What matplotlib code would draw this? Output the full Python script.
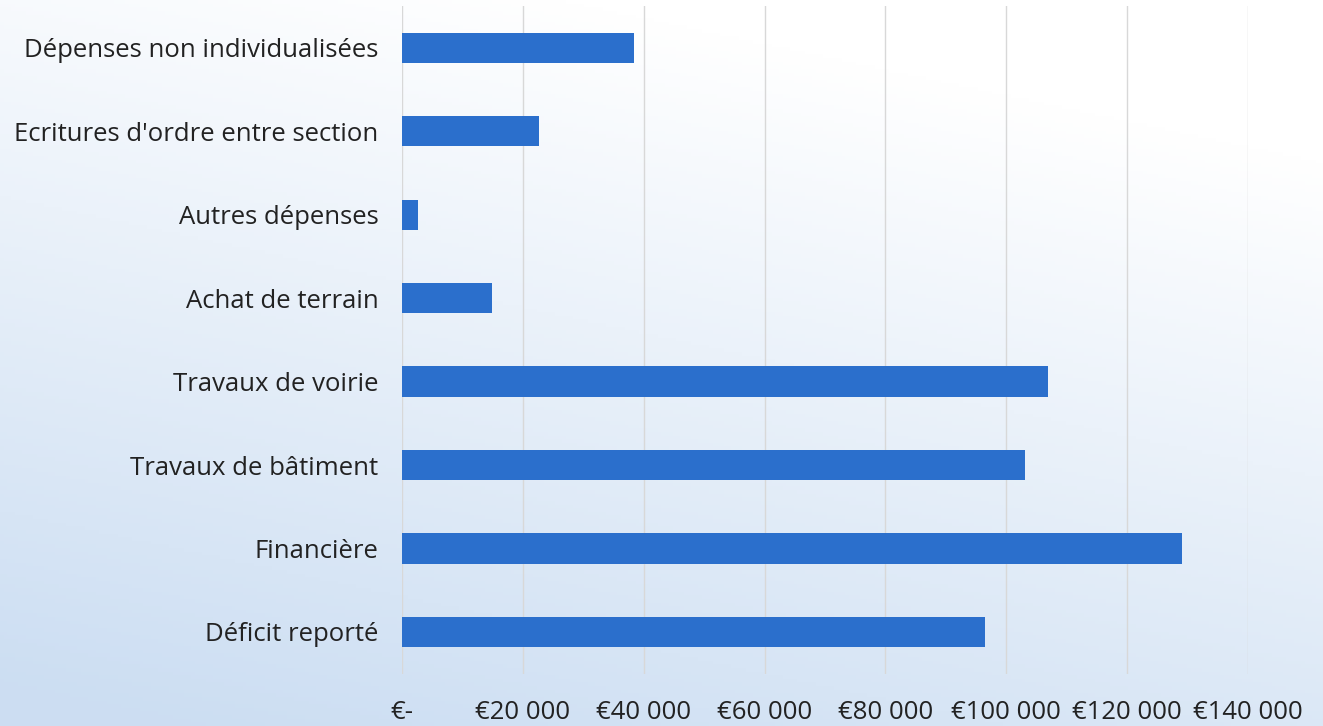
import matplotlib
matplotlib.use("Agg")
import matplotlib.pyplot as plt
import numpy as np
from matplotlib.ticker import FuncFormatter

categories = ["Dépenses non individualisées", "Ecritures d'ordre entre section",
              "Autres dépenses", "Achat de terrain", "Travaux de voirie",
              "Travaux de bâtiment", "Financière", "Déficit reporté"]
values = [38400, 22700, 2650, 14900, 107000, 103100, 129100, 96500]
ticks = [0, 20000, 40000, 60000, 80000, 100000, 120000, 140000]

plt.rcParams['font.family'] = ['Open Sans', 'DejaVu Sans']

fig = plt.figure(figsize=(13.23, 7.26), dpi=100)

# background gradient (scan look): white top-right, light blue toward bottom-left
bg = fig.add_axes([0, 0, 1, 1], zorder=-10)
h, w = 200, 360
yy, xx = np.mgrid[0:1:h*1j, 0:1:w*1j]
t = np.clip(0.15 + 0.9 * yy - 0.35 * xx, 0, 1)
top = np.array([1.0, 1.0, 1.0])
bot = np.array([0.80, 0.87, 0.95])
img = top[None, None, :] * (1 - t[..., None]) + bot[None, None, :] * t[..., None]
bg.imshow(img, aspect='auto', extent=[0, 1, 0, 1], origin='upper')
bg.axis('off')

ax = fig.add_axes([0.304, 0.072, 0.639, 0.920])
ax.patch.set_alpha(0)
y = np.arange(len(categories))
ax.barh(y, values, height=0.36, color='#2b6fcc', zorder=3)
ax.set_ylim(len(categories) - 0.5, -0.5)
ax.set_xlim(0, 140000)
ax.set_xticks(ticks)
ax.xaxis.set_major_formatter(FuncFormatter(
    lambda v, p: "€-" if v == 0 else "€" + f"{int(v):,}".replace(",", " ")))
ax.set_yticks(y)
ax.set_yticklabels(categories)
ax.tick_params(axis='both', length=0, labelsize=18.5, colors='#222222')
ax.tick_params(axis='y', pad=17)
ax.tick_params(axis='x', pad=19)
ax.grid(axis='x', color='#d8d8d8', linewidth=1, zorder=0)
for s in ax.spines.values():
    s.set_visible(False)

fig.savefig("out.png", dpi=100)
